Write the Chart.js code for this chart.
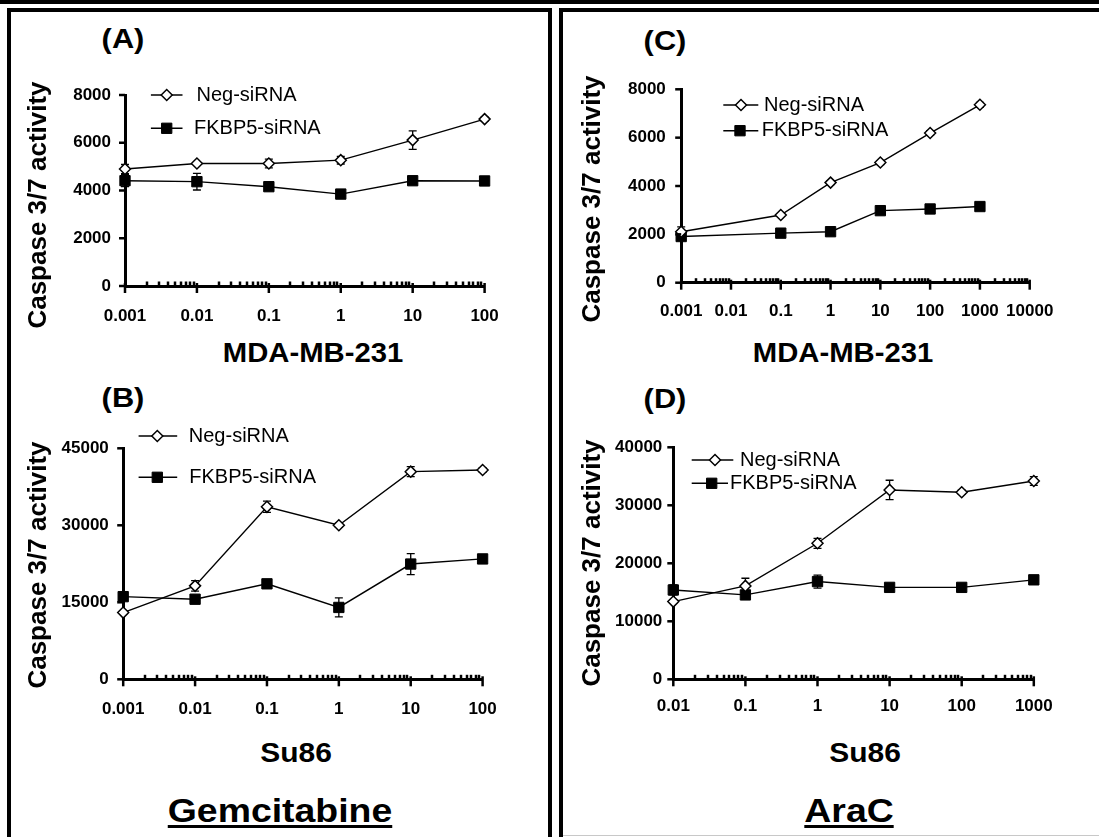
<!DOCTYPE html>
<html>
<head>
<meta charset="utf-8">
<script src="https://cdn.jsdelivr.net/npm/chart.js@4.4.1/dist/chart.umd.min.js"></script>
<style>
  html, body { margin: 0; padding: 0; background: #fff; }
  body { width: 1099px; height: 837px; position: relative; overflow: hidden; font-family: "Liberation Sans", Arial, sans-serif; }
  .bar { position: absolute; background: #000; }
  .box { position: absolute; border: 4px solid #000; box-sizing: border-box; }
  .txt { position: absolute; font-weight: bold; line-height: 1; white-space: nowrap; color: #000; }
  canvas { position: absolute; }
</style>
</head>
<body>
<div class="bar" style="left:0;top:0;width:1099px;height:4px"></div>
<div class="box" style="left:7px;top:8px;width:545px;height:900px"></div>
<div class="box" style="left:559px;top:8px;width:600px;height:900px"></div>
<div style="position:absolute;left:563px;top:835px;width:536px;height:1px;background:#c8c8c8"></div>

<canvas id="cA" width="530" height="270" style="left:14px;top:60px"></canvas>
<canvas id="cB" width="530" height="310" style="left:14px;top:415px"></canvas>
<canvas id="cC" width="530" height="270" style="left:566px;top:60px"></canvas>
<canvas id="cD" width="530" height="310" style="left:566px;top:415px"></canvas>

<!-- panel letters -->
<div class="txt" style="left:123px;top:39px;font-size:28px;transform:translate(-50%,-50%) scaleX(1.1)">(A)</div>
<div class="txt" style="left:123px;top:398px;font-size:28px;transform:translate(-50%,-50%) scaleX(1.1)">(B)</div>
<div class="txt" style="left:665px;top:41px;font-size:28px;transform:translate(-50%,-50%) scaleX(1.1)">(C)</div>
<div class="txt" style="left:665px;top:399px;font-size:28px;transform:translate(-50%,-50%) scaleX(1.1)">(D)</div>

<!-- axis titles -->
<div class="txt" style="left:37px;top:205px;font-size:26px;transform:translate(-50%,-50%) rotate(-90deg)">Caspase 3/7 activity</div>
<div class="txt" style="left:37px;top:565px;font-size:26px;transform:translate(-50%,-50%) rotate(-90deg)">Caspase 3/7 activity</div>
<div class="txt" style="left:591px;top:199px;font-size:26px;transform:translate(-50%,-50%) rotate(-90deg)">Caspase 3/7 activity</div>
<div class="txt" style="left:591px;top:563px;font-size:26px;transform:translate(-50%,-50%) rotate(-90deg)">Caspase 3/7 activity</div>

<div class="txt" style="left:313px;top:353px;font-size:28px;transform:translate(-50%,-50%) scaleX(1.045)">MDA-MB-231</div>
<div class="txt" style="left:843px;top:353px;font-size:28px;transform:translate(-50%,-50%) scaleX(1.045)">MDA-MB-231</div>
<div class="txt" style="left:296px;top:753px;font-size:28px;transform:translate(-50%,-50%) scaleX(1.07)">Su86</div>
<div class="txt" style="left:865px;top:753px;font-size:28px;transform:translate(-50%,-50%) scaleX(1.07)">Su86</div>

<!-- drug titles -->
<div class="txt" style="left:280px;top:810px;font-size:34px;text-decoration:underline;text-decoration-thickness:3px;text-underline-offset:3px;transform:translate(-50%,-50%) scaleX(1.1)">Gemcitabine</div>
<div class="txt" style="left:849px;top:810px;font-size:34px;text-decoration:underline;text-decoration-thickness:3px;text-underline-offset:3px;transform:translate(-50%,-50%) scaleX(1.1)">AraC</div>

<script>
// series names
const seriesNames = ["Neg-siRNA", "FKBP5-siRNA"];

// (A) Gemcitabine, MDA-MB-231
const xA = [0.001, 0.01, 0.1, 1, 10, 100];
const negA = [4900, 5130, 5130, 5270, 6110, 6990];
const negErrA = [190, 50, 180, 160, 385, 80];
const fkA = [4410, 4370, 4160, 3850, 4410, 4400];
const fkErrA = [250, 350, 80, 60, 60, 50];
const xTicksA = [0.001, 0.01, 0.1, 1, 10, 100];
const yTicksA = [0, 2000, 4000, 6000, 8000];

// (B) Gemcitabine, Su86
const xB = [0.001, 0.01, 0.1, 1, 10, 100];
const negB = [13000, 18200, 33600, 30000, 40450, 40770];
const negErrB = [300, 1040, 1100, 400, 970, 400];
const fkB = [16100, 15600, 18600, 14000, 22450, 23450];
const fkErrB = [500, 400, 400, 1850, 2050, 400];
const xTicksB = [0.001, 0.01, 0.1, 1, 10, 100];
const yTicksB = [0, 15000, 30000, 45000];

// (C) AraC, MDA-MB-231
const xC = [0.001, 0.1, 1, 10, 100, 1000];
const negC = [2110, 2800, 4140, 4970, 6190, 7360];
const negErrC = [200, 60, 80, 80, 100, 100];
const fkC = [1910, 2050, 2110, 2980, 3050, 3150];
const fkErrC = [80, 60, 60, 80, 60, 80];
const xTicksC = [0.001, 0.01, 0.1, 1, 10, 100, 1000, 10000];
const yTicksC = [0, 2000, 4000, 6000, 8000];

// (D) AraC, Su86
const xD = [0.01, 0.1, 1, 10, 100, 1000];
const negD = [13400, 16100, 23450, 32650, 32250, 34200];
const negErrD = [300, 1320, 860, 1670, 350, 750];
const fkD = [15400, 14550, 16850, 15850, 15850, 17150];
const fkErrD = [860, 400, 1120, 300, 300, 400];
const xTicksD = [0.01, 0.1, 1, 10, 100, 1000];
const yTicksD = [0, 10000, 20000, 30000, 40000];

const FONT = '"Liberation Sans", Arial, sans-serif';

function drawMarker(ctx, style, r, x, y) {
  if (Chart.helpers && Chart.helpers.drawPoint) {
    Chart.helpers.drawPoint(ctx, { pointStyle: style, radius: r, borderWidth: ctx.lineWidth, rotation: 0 }, x, y);
    return;
  }
  ctx.beginPath();
  if (style === "rectRot") {
    ctx.moveTo(x - r, y); ctx.lineTo(x, y - r); ctx.lineTo(x + r, y); ctx.lineTo(x, y + r);
  } else {
    const s = Math.SQRT1_2 * r;
    ctx.rect(x - s, y - s, 2 * s, 2 * s);
  }
  ctx.closePath(); ctx.fill(); ctx.stroke();
}

// error bars, axis tick marks and the line+marker legend
const markPlugin = {
  id: "marks",
  beforeDatasetsDraw(chart) {
    const ctx = chart.ctx, yS = chart.scales.y;
    ctx.save();
    ctx.strokeStyle = "#000";
    ctx.lineWidth = 1.3;
    chart.data.datasets.forEach((ds, i) => {
      const meta = chart.getDatasetMeta(i);
      ds.errors.forEach((e, j) => {
        const px = meta.data[j].x, v = ds.data[j].y;
        const top = yS.getPixelForValue(v + e), bot = yS.getPixelForValue(v - e);
        ctx.beginPath();
        ctx.moveTo(px, top); ctx.lineTo(px, bot);
        ctx.moveTo(px - 4, top); ctx.lineTo(px + 4, top);
        ctx.moveTo(px - 4, bot); ctx.lineTo(px + 4, bot);
        ctx.stroke();
      });
    });
    ctx.restore();
  },
  afterDraw(chart, args, opts) {
    const ctx = chart.ctx, xS = chart.scales.x, yS = chart.scales.y, area = chart.chartArea;
    ctx.save();
    ctx.strokeStyle = "#000";
    // major x ticks
    ctx.lineWidth = 2.5;
    xS.ticks.forEach((t) => {
      const px = xS.getPixelForValue(t.value);
      ctx.beginPath(); ctx.moveTo(px, area.bottom - 3); ctx.lineTo(px, area.bottom + 7); ctx.stroke();
    });
    // minor x ticks
    ctx.lineWidth = 2.5;
    xS.ticks.forEach((t) => {
      for (let k = 2; k <= 9; k++) {
        const v = t.value * k;
        if (v > xS.max * 1.0001) break;
        const px = Math.round(xS.getPixelForValue(v));
        ctx.beginPath(); ctx.moveTo(px, area.bottom - 4.5); ctx.lineTo(px, area.bottom); ctx.stroke();
      }
    });
    // y ticks
    ctx.lineWidth = 2.5;
    yS.ticks.forEach((t) => {
      const py = yS.getPixelForValue(t.value);
      ctx.beginPath(); ctx.moveTo(area.left - 6, py); ctx.lineTo(area.left, py); ctx.stroke();
    });

    // legend
    ctx.font = "20px " + FONT;
    ctx.textBaseline = "middle";
    ctx.textAlign = "left";
    opts.items.forEach((it, i) => {
      const ds = chart.data.datasets[i];
      ctx.strokeStyle = "#000";
      ctx.lineWidth = 1.4;
      ctx.beginPath(); ctx.moveTo(it.x0, it.y); ctx.lineTo(it.x1, it.y); ctx.stroke();
      ctx.fillStyle = ds.pointBackgroundColor;
      ctx.lineWidth = ds.pointBorderWidth;
      drawMarker(ctx, ds.pointStyle, ds.pointRadius, it.mx, it.y);
      ctx.fillStyle = "#000";
      ctx.fillText(ds.label, it.tx, it.y);
    });
    ctx.restore();
  },
};

function buildPanel(p) {
  const tickFont = { family: FONT, size: 17, weight: "bold" };
  return new Chart(document.getElementById(p.id), {
    type: "line",
    data: {
      datasets: [
        {
          label: seriesNames[0],
          data: p.x.map((v, i) => ({ x: v, y: p.neg[i] })),
          errors: p.negErr,
          borderColor: "#000",
          borderWidth: 1.4,
          tension: 0,
          pointStyle: "rectRot",
          pointRadius: 5.5,
          pointBackgroundColor: "#fff",
          pointBorderColor: "#000",
          pointBorderWidth: 1.5,
          clip: false,
        },
        {
          label: seriesNames[1],
          data: p.x.map((v, i) => ({ x: v, y: p.fk[i] })),
          errors: p.fkErr,
          borderColor: "#000",
          borderWidth: 1.4,
          tension: 0,
          pointStyle: "rect",
          pointRadius: 7.3,
          pointBackgroundColor: "#000",
          pointBorderColor: "#000",
          pointBorderWidth: 1,
          clip: false,
        },
      ],
    },
    options: {
      responsive: false,
      animation: false,
      devicePixelRatio: 1,
      events: [],
      layout: { padding: { top: p.padTop, right: p.padRight, left: 0, bottom: 0 } },
      plugins: {
        legend: { display: false },
        tooltip: { enabled: false },
        marks: { items: p.legend },
      },
      scales: {
        x: {
          type: "logarithmic",
          min: p.xTicks[0],
          max: p.xTicks[p.xTicks.length - 1],
          afterFit: (s) => { s.height = p.xH; },
          afterBuildTicks: (s) => { s.ticks = p.xTicks.map((v) => ({ value: v })); },
          grid: { display: false, drawTicks: false },
          border: { display: true, color: "#000", width: 3 },
          ticks: {
            autoSkip: false, maxRotation: 0, minRotation: 0,
            padding: p.xPad, font: tickFont, color: "#000",
            callback: (v) => String(v),
          },
        },
        y: {
          type: "linear",
          min: p.yTicks[0],
          max: p.yTicks[p.yTicks.length - 1],
          afterFit: (s) => { s.width = p.yW; },
          afterBuildTicks: (s) => { s.ticks = p.yTicks.map((v) => ({ value: v })); },
          grid: { display: false, drawTicks: false },
          border: { display: true, color: "#000", width: 3 },
          ticks: {
            padding: p.yPad, font: tickFont, color: "#000",
            callback: (v) => String(v),
          },
        },
      },
    },
    plugins: [markPlugin],
  });
}

buildPanel({
  id: "cA", x: xA, neg: negA, negErr: negErrA, fk: fkA, fkErr: fkErrA,
  xTicks: xTicksA, yTicks: yTicksA,
  yW: 111, xH: 44, padTop: 35, padRight: 59.4, xPad: 20, yPad: 14,
  legend: [
    { x0: 136.9, x1: 168.5, mx: 152.7, tx: 182.5, y: 35 },
    { x0: 136.9, x1: 168.5, mx: 152.7, tx: 180, y: 68.3 },
  ],
});

buildPanel({
  id: "cB", x: xB, neg: negB, negErr: negErrB, fk: fkB, fkErr: fkErrB,
  xTicks: xTicksB, yTicks: yTicksB,
  yW: 109.2, xH: 45.7, padTop: 33.3, padRight: 61.4, xPad: 20.3, yPad: 14.4,
  legend: [
    { x0: 124.6, x1: 163.2, mx: 143.3, tx: 174.8, y: 21 },
    { x0: 124.6, x1: 163.2, mx: 143.3, tx: 175.3, y: 62.3 },
  ],
});

buildPanel({
  id: "cC", x: xC, neg: negC, negErr: negErrC, fk: fkC, fkErr: fkErrC,
  xTicks: xTicksC, yTicks: yTicksC,
  yW: 115.2, xH: 47.3, padTop: 29.3, padRight: 66.3, xPad: 18.1, yPad: 15.4,
  legend: [
    { x0: 157.3, x1: 192.3, mx: 175, tx: 198, y: 45 },
    { x0: 157.3, x1: 192.3, mx: 174, tx: 195.7, y: 70.7 },
  ],
});

buildPanel({
  id: "cD", x: xD, neg: negD, negErr: negErrD, fk: fkD, fkErr: fkErrD,
  xTicks: xTicksD, yTicks: yTicksD,
  yW: 107.3, xH: 45.7, padTop: 32.3, padRight: 62.2, xPad: 16.5, yPad: 11,
  legend: [
    { x0: 125.7, x1: 167.3, mx: 149, tx: 174, y: 45 },
    { x0: 125.7, x1: 162, mx: 145.7, tx: 164, y: 68.3 },
  ],
});
</script>
</body>
</html>
